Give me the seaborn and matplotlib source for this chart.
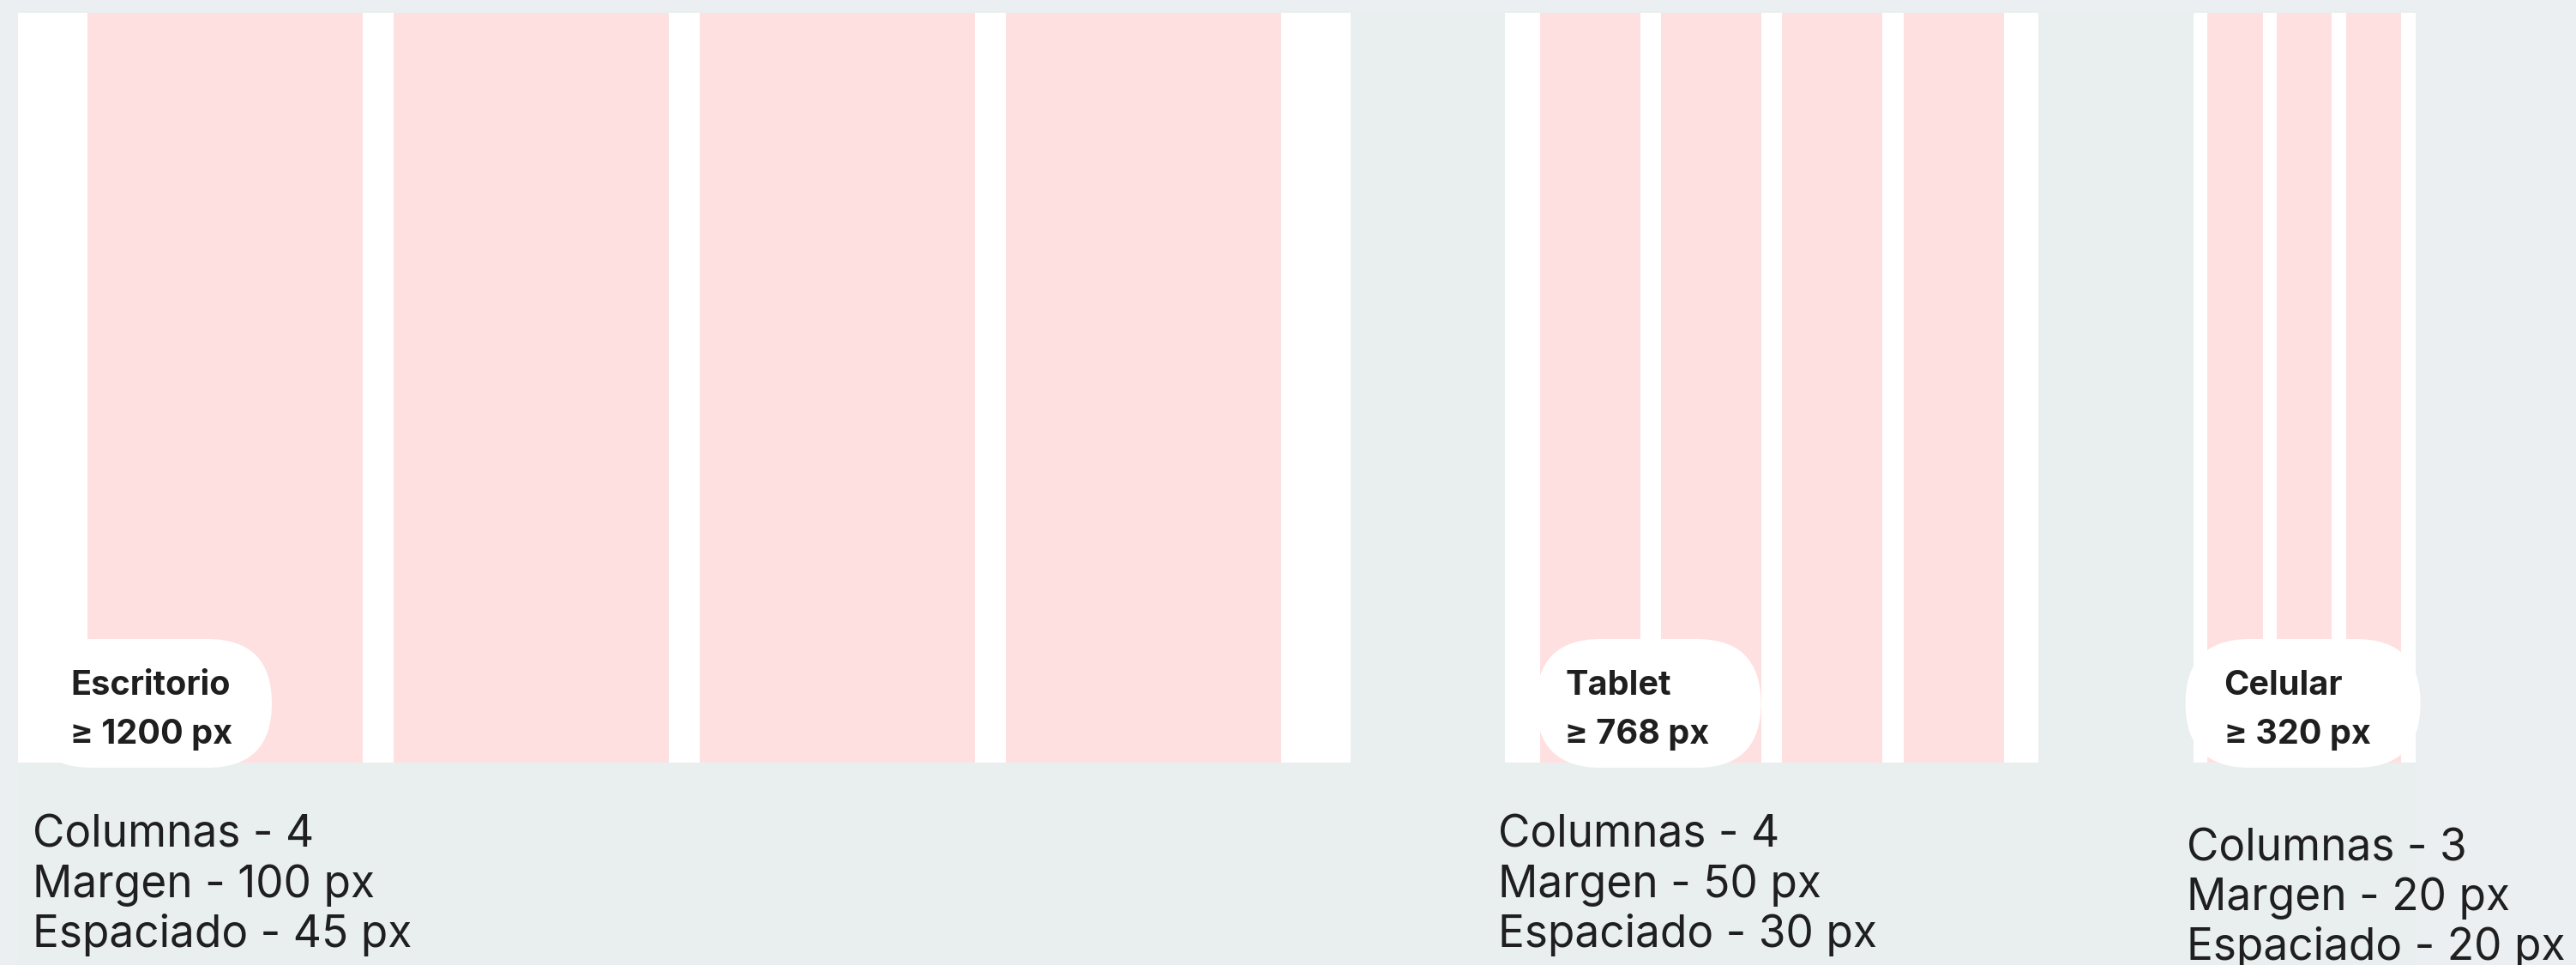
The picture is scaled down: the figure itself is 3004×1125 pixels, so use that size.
import matplotlib.pyplot as plt
import pandas as pd
import seaborn as sns
from matplotlib.patches import FancyBboxPatch, Rectangle


# grid specs per breakpoint (design px)
DEVICES = ["Escritorio", "Tablet", "Celular"]
MIN_WIDTHS = [1200, 768, 320]
FRAME_WIDTHS = [1920, 768, 320]
FRAME_HEIGHT = 1080
COLUMNS = [4, 4, 3]
MARGINS = [100, 50, 20]
GUTTERS = [45, 30, 20]

# layout (output px)
WIDTH_PX, HEIGHT_PX = 3004, 1125
SCALE = 1554 / 1920
FRAME_X0 = 21
FRAME_TOP = 15
FRAME_SPACING = 223
PILL_BOX = [(11, 285), (36, 262), (-9, 274)]
PILL_Y = (745, 895)
LABEL_DX = [61, 70, 36]
LABEL_BASELINES = (810, 867)
BODY_DX = [17, -8, -8]
BODY_FIRST = [988, 988, 1003]
BODY_STEP = 58

BG_OUTER = "#ebeff2"
BG_INNER = "#e9efef"
PINK = "#ffe0e1"
TEXT = "#1f1f1f"
FONTS = ["Inter", "DejaVu Sans"]


def frame_positions() -> list:
    xs, x = [], FRAME_X0
    for width in FRAME_WIDTHS:
        xs.append(x)
        x += (width + FRAME_SPACING) * SCALE
    return xs


def build_columns(frame_x: list) -> pd.DataFrame:
    rows = []
    for dev, x0, w, n, m, g in zip(DEVICES, frame_x, FRAME_WIDTHS, COLUMNS, MARGINS, GUTTERS):
        col_w = (w - 2 * m - (n - 1) * g) / n
        for i in range(n):
            center = m + col_w / 2 + i * (col_w + g)
            rows.append({
                "device": dev,
                "center": x0 + center * SCALE,
                "height": FRAME_HEIGHT * SCALE,
                "fill": col_w / (col_w + g),
            })
    return pd.DataFrame(rows)


def main() -> None:
    sns.set_style("white")
    plt.rcParams["font.family"] = FONTS

    fig = plt.figure(figsize=(WIDTH_PX / 100, HEIGHT_PX / 100), dpi=100)
    fig.patch.set_facecolor(BG_OUTER)
    ax = fig.add_axes([0, 0, 1, 1])
    ax.set_facecolor(BG_OUTER)

    frame_x = frame_positions()
    cols = build_columns(frame_x)
    frame_h = FRAME_HEIGHT * SCALE

    right = frame_x[-1] + FRAME_WIDTHS[-1] * SCALE
    ax.add_patch(Rectangle((FRAME_X0, 13 - FRAME_TOP), right - FRAME_X0, HEIGHT_PX,
                           facecolor=BG_INNER, edgecolor="none", zorder=0))

    # white frames
    ax.bar([x + w * SCALE / 2 for x, w in zip(frame_x, FRAME_WIDTHS)],
           [frame_h] * len(DEVICES),
           width=[w * SCALE for w in FRAME_WIDTHS],
           color="white", linewidth=0, zorder=1)

    # pink grid columns
    for dev in DEVICES:
        sub = cols[cols["device"] == dev]
        sns.barplot(data=sub, x="center", y="height", native_scale=True,
                    width=sub["fill"].iloc[0], color=PINK, saturation=1,
                    linewidth=0, errorbar=None, ax=ax, zorder=2)

    for i, dev in enumerate(DEVICES):
        x0 = frame_x[i]
        dx, pw = PILL_BOX[i]
        ax.add_patch(FancyBboxPatch(
            (x0 + dx, PILL_Y[0] - FRAME_TOP), pw, PILL_Y[1] - PILL_Y[0],
            boxstyle="round,pad=0,rounding_size=75",
            facecolor="white", edgecolor="none", zorder=3))
        ax.text(x0 + LABEL_DX[i], LABEL_BASELINES[0] - FRAME_TOP, dev,
                fontsize=28.5, fontweight="bold", color=TEXT, va="baseline", zorder=4)
        ax.text(x0 + LABEL_DX[i], LABEL_BASELINES[1] - FRAME_TOP, f"\u2265 {MIN_WIDTHS[i]} px",
                fontsize=28.5, fontweight="bold", color=TEXT, va="baseline", zorder=4)
        lines = [f"Columnas - {COLUMNS[i]}", f"Margen - {MARGINS[i]} px",
                 f"Espaciado - {GUTTERS[i]} px"]
        for k, line in enumerate(lines):
            ax.text(x0 + BODY_DX[i], BODY_FIRST[i] + k * BODY_STEP - FRAME_TOP, line,
                    fontsize=37, color=TEXT, va="baseline", zorder=4)

    ax.set_xlim(0, WIDTH_PX)
    ax.set_ylim(HEIGHT_PX - FRAME_TOP, -FRAME_TOP)
    ax.set_axis_off()
    fig.savefig("out.png", dpi=100, facecolor=BG_OUTER)


if __name__ == "__main__":
    main()
